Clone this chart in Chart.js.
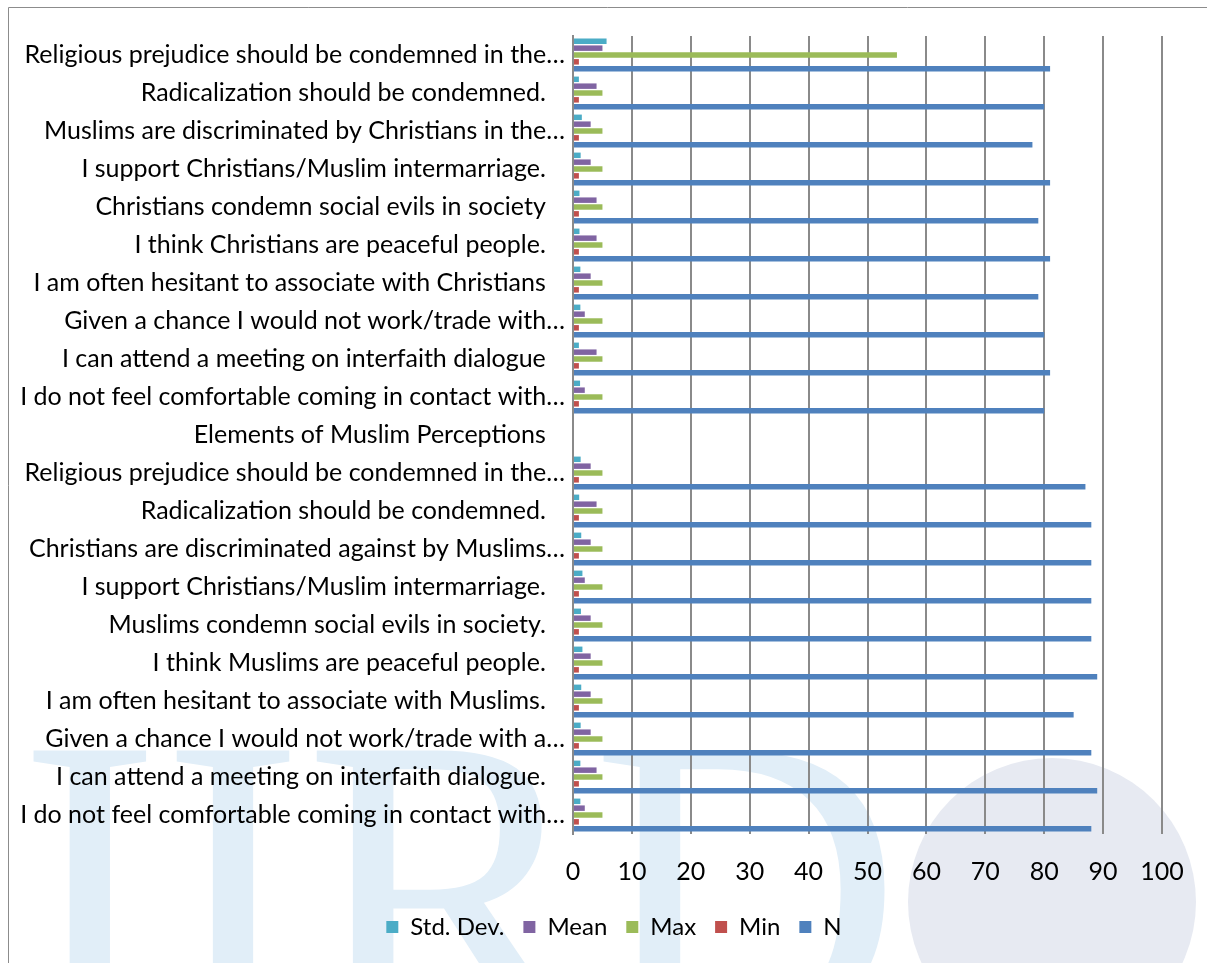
<!DOCTYPE html>
<html>
<head>
<meta charset="utf-8">
<script src="https://cdn.jsdelivr.net/npm/chart.js@4.4.1/dist/chart.umd.min.js"></script>
<style>
  html, body { margin: 0; padding: 0; background: #fff; }
  #wrap { position: relative; width: 1207px; height: 963px; }
</style>
</head>
<body>
<div id="wrap"><canvas id="chart" width="1207" height="963"></canvas></div>
<script>
// Category labels, top to bottom (trailing spaces kept as in the source chart)
const categories = [
    'Religious prejudice should be condemned in the…',
    'Radicalization should be condemned.   ',
    'Muslims are discriminated by Christians in the…',
    'I support Christians/Muslim intermarriage.   ',
    'Christians condemn social evils in society   ',
    'I think Christians are peaceful people.   ',
    'I am often hesitant to associate with Christians   ',
    'Given a chance I would not work/trade with…',
    'I can attend a meeting on interfaith dialogue   ',
    'I do not feel comfortable coming in contact with…',
    'Elements of Muslim Perceptions   ',
    'Religious prejudice should be condemned in the…',
    'Radicalization should be condemned.   ',
    'Christians are discriminated against by Muslims…',
    'I support Christians/Muslim intermarriage.   ',
    'Muslims condemn social evils in society.   ',
    'I think Muslims are peaceful people.   ',
    'I am often hesitant to associate with Muslims.   ',
    'Given a chance I would not work/trade with a…',
    'I can attend a meeting on interfaith dialogue.   ',
    'I do not feel comfortable coming in contact with…'
];

const stdDev = [5.7, 1.0, 1.5, 1.3, 1.1, 1.1, 1.25, 1.25, 1.0, 1.2, null, 1.3, 1.05, 1.4, 1.6, 1.35, 1.6, 1.4, 1.3, 1.25, 1.25];
const mean   = [5, 4, 3, 3, 4, 4, 3, 2, 4, 2, null, 3, 4, 3, 2, 3, 3, 3, 3, 4, 2];
const maxVal = [55, 5, 5, 5, 5, 5, 5, 5, 5, 5, null, 5, 5, 5, 5, 5, 5, 5, 5, 5, 5];
const minVal = [1, 1, 1, 1, 1, 1, 1, 1, 1, 1, null, 1, 1, 1, 1, 1, 1, 1, 1, 1, 1];
const nVal   = [81, 80, 78, 81, 79, 81, 79, 80, 81, 80, null, 87, 88, 88, 88, 88, 89, 85, 88, 89, 88];

const xTicks = [0, 10, 20, 30, 40, 50, 60, 70, 80, 90, 100];

const FONT = "Lato, 'Open Sans', sans-serif";
const AXIS_LEFT = 573;     // pixel x of the value 0
const LEGEND_SHIFT = 33;   // original legend sits a bit right of centre

// Faint IIRD watermark + outer frame, drawn behind the chart
const backdrop = {
    id: 'backdrop',
    afterLayout(chart) {
        chart.legend.left += LEGEND_SHIFT;
        chart.legend.right += LEGEND_SHIFT;
    },
    beforeDraw(chart) {
        const ctx = chart.ctx;
        ctx.save();
        ctx.fillStyle = '#fff';
        ctx.fillRect(0, 0, chart.width, chart.height);

        // globe
        ctx.fillStyle = '#e7eaf2';
        ctx.beginPath();
        ctx.arc(1052, 902, 144, 0, Math.PI * 2);
        ctx.fill();

        // letters
        ctx.fillStyle = '#e1eef8';
        ctx.font = "430px 'Liberation Serif', serif";
        ctx.textBaseline = 'alphabetic';
        ctx.fillText('IIRD', 18, 1032);

        // frame
        ctx.strokeStyle = '#8c8c8c';
        ctx.lineWidth = 1;
        ctx.beginPath();
        ctx.moveTo(8.5, 963);
        ctx.lineTo(8.5, 7.5);
        ctx.lineTo(1207, 7.5);
        ctx.stroke();
        ctx.restore();
    }
};

const makeSet = (label, data, color) => ({
    label: label,
    data: data,
    backgroundColor: color,
    borderColor: color,
    borderWidth: 0,
    categoryPercentage: 0.9,
    barPercentage: 0.8
});

const ctx = document.getElementById('chart').getContext('2d');
const chart = new Chart(ctx, {
    type: 'bar',
    data: {
        labels: categories,
        datasets: [
            makeSet('Std. Dev.', stdDev, '#4BACC6'),
            makeSet('Mean', mean, '#8064A2'),
            makeSet('Max', maxVal, '#9BBB59'),
            makeSet('Min', minVal, '#C0504D'),
            makeSet('N', nVal, '#4F81BD')
        ]
    },
    options: {
        indexAxis: 'y',
        responsive: false,
        animation: false,
        devicePixelRatio: 1,
        layout: { padding: { top: 36, right: 45, bottom: 14, left: 0 } },
        plugins: {
            legend: {
                position: 'bottom',
                labels: {
                    color: '#000',
                    font: { family: FONT, size: 24 },
                    boxWidth: 12,
                    boxHeight: 12,
                    padding: 19
                }
            },
            tooltip: { enabled: false }
        },
        scales: {
            x: {
                min: 0,
                max: 100,
                afterBuildTicks: axis => { axis.ticks = xTicks.map(v => ({ value: v })); },
                afterFit: axis => { axis.height = 62; },
                grid: { color: '#8a8a8a', lineWidth: 2, drawTicks: false },
                border: { display: false },
                ticks: {
                    color: '#000',
                    font: { family: FONT, size: 25 },
                    padding: 23,
                    maxRotation: 0
                }
            },
            y: {
                afterFit: axis => { axis.width = AXIS_LEFT; },
                grid: { display: false, drawTicks: false },
                border: { display: true, color: '#8a8a8a', width: 2 },
                ticks: {
                    color: '#000',
                    font: { family: FONT, size: 25 },
                    padding: 8,
                    autoSkip: false
                }
            }
        }
    },
    plugins: [backdrop]
});
</script>
</body>
</html>
